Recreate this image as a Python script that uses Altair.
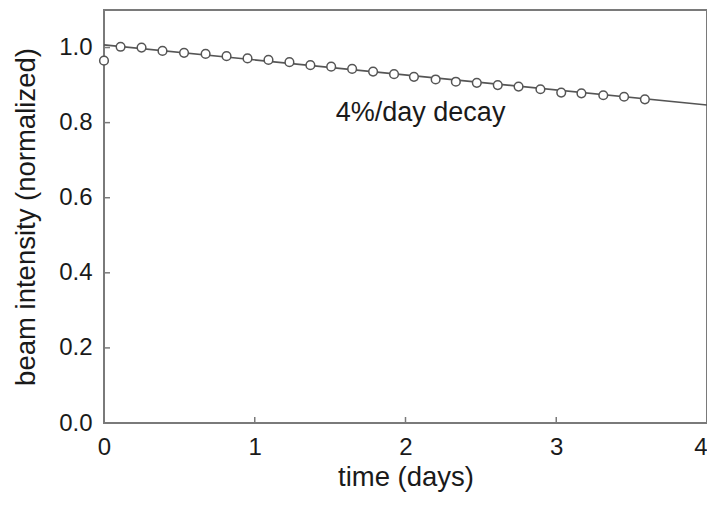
import altair as alt
import pandas as pd

# Measured beam intensity (normalized) vs time (days)
time_days = [0.0, 0.110, 0.249, 0.388, 0.531, 0.674, 0.813, 0.952, 1.091, 1.230,
             1.369, 1.507, 1.646, 1.785, 1.924, 2.056, 2.200, 2.334, 2.473, 2.612,
             2.750, 2.895, 3.033, 3.167, 3.312, 3.450, 3.588]
intensity = [0.965, 1.002, 1.000, 0.991, 0.986, 0.983, 0.977, 0.971, 0.967, 0.961,
             0.953, 0.949, 0.943, 0.936, 0.929, 0.922, 0.915, 0.909, 0.906, 0.900,
             0.896, 0.889, 0.880, 0.878, 0.873, 0.869, 0.862]

# 4%/day decay fit line
fit_time = [0.0, 4.0]
fit_intensity = [1.007, 0.847]

# annotation
note_text = ["4%/day decay"]
note_time = [2.1]
note_value = [0.826]

x_ticks = [0, 1, 2, 3, 4]
y_ticks = [0.0, 0.2, 0.4, 0.6, 0.8, 1.0]

FONT = "Liberation Sans"
AXIS_GRAY = "#7a7a7a"
LINE_GRAY = "#555555"

pts = pd.DataFrame({"t": time_days, "v": intensity})
fit = pd.DataFrame({"t": fit_time, "v": fit_intensity})
note = pd.DataFrame({"t": note_time, "v": note_value, "label": note_text})
xt = pd.DataFrame({"t": x_ticks})
yt = pd.DataFrame({"v": y_ticks})

xscale = alt.Scale(domain=[0, 4], nice=False, zero=False)
yscale = alt.Scale(domain=[0, 1.1], nice=False, zero=False)

x_axis = alt.Axis(values=x_ticks, format="d", title="time (days)", grid=False,
                  ticks=False, domain=False, labelPadding=12, titlePadding=4,
                  labelFlush=False,
                  labelAlign={"condition": {"test": "datum.value >= 4", "value": "right"},
                              "value": "center"})
y_axis = alt.Axis(values=y_ticks, format=".1f", title="beam intensity (normalized)",
                  grid=False, ticks=False, domain=False, labelPadding=12, titlePadding=18,
                  labelFlush=False)

fit_line = alt.Chart(fit).mark_line(color=LINE_GRAY, strokeWidth=1.6).encode(
    x=alt.X("t:Q", scale=xscale, axis=x_axis),
    y=alt.Y("v:Q", scale=yscale, axis=y_axis),
)

points = alt.Chart(pts).mark_point(
    shape="circle", filled=True, fill="white", stroke=LINE_GRAY, strokeWidth=1.5,
    size=75, opacity=1,
).encode(
    x=alt.X("t:Q", scale=xscale),
    y=alt.Y("v:Q", scale=yscale),
)

label = alt.Chart(note).mark_text(
    font=FONT, fontSize=27, color="#1a1a1a", align="center", baseline="middle"
).encode(
    x=alt.X("t:Q", scale=xscale),
    y=alt.Y("v:Q", scale=yscale),
    text="label:N",
)

y_tick_marks = alt.Chart(yt).mark_rule(color=AXIS_GRAY, strokeWidth=1.5).encode(
    y=alt.Y("v:Q", scale=yscale),
    x=alt.value(0),
    x2=alt.value(6),
)

x_tick_marks = alt.Chart(xt).mark_rule(color=AXIS_GRAY, strokeWidth=1.5).encode(
    x=alt.X("t:Q", scale=xscale),
    y=alt.value(413),
    y2=alt.value(407),
)

chart = alt.layer(fit_line, y_tick_marks, x_tick_marks, points, label).properties(
    width=603,
    height=413,
    autosize=alt.AutoSizeParams(type="none"),
    padding={"left": 96, "top": 2, "right": 0, "bottom": 72},
).configure_view(
    stroke=AXIS_GRAY, strokeWidth=2,
).configure_axis(
    labelFont=FONT, titleFont=FONT, labelFontSize=24, titleFontSize=27.5,
    labelColor="#1a1a1a", titleColor="#1a1a1a", titleFontWeight="normal",
)

chart.save("out.html", embed_options={"renderer": "svg", "actions": False})
